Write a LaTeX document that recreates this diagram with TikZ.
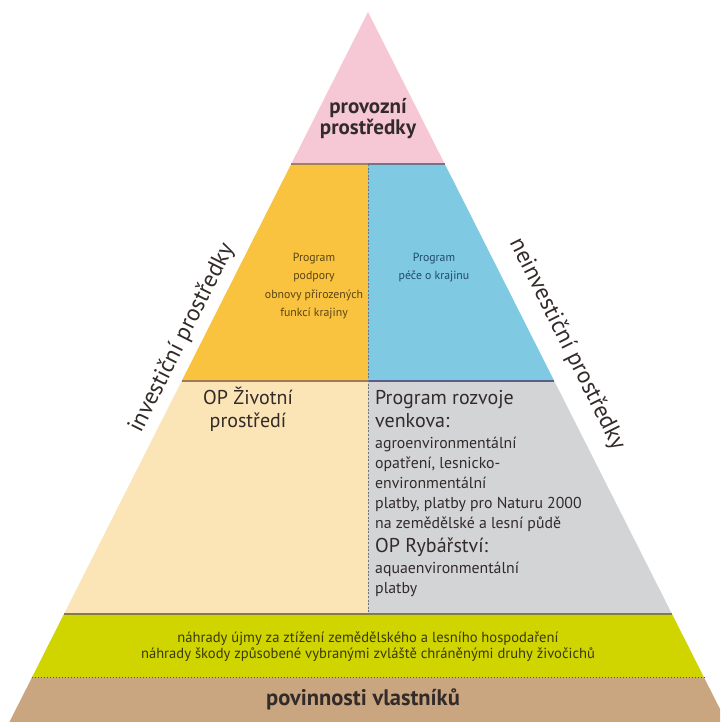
\documentclass[tikz,border=0pt]{standalone}
\usepackage{fontspec}
\setmainfont{PT Sans}
\usepackage{tikz}
\usetikzlibrary{positioning, calc}

\definecolor{pinkfill}{HTML}{F6C8D6}
\definecolor{orangefill}{HTML}{F9C33F}
\definecolor{bluefill}{HTML}{80C9E3}
\definecolor{beigefill}{HTML}{FBE4B6}
\definecolor{greyfill}{HTML}{D3D4D6}
\definecolor{limefill}{HTML}{D0D500}
\definecolor{brownfill}{HTML}{C9A67F}
\definecolor{txtdark}{HTML}{332A2A}
\definecolor{txtorange}{HTML}{5A4415}
\definecolor{txtblue}{HTML}{1F4A6A}
\definecolor{txtlime}{HTML}{3A3A0A}

\begin{document}
\begin{tikzpicture}[x=1pt, y=1pt,
    sepline/.style={line width=2.2pt},
    divline/.style={draw=black!55, line width=0.9pt, dash pattern=on 2pt off 1.6pt},
    title/.style={font=\fontsize{21}{21.5}\selectfont\bfseries, text=txtdark, align=center, inner sep=0pt},
    bigtext/.style={font=\fontsize{20}{23}\selectfont, text=txtdark, inner sep=0pt},
    smalltext/.style={font=\fontsize{15.8}{20}\selectfont, text=txtdark, align=left, inner sep=0pt},
    prog/.style={font=\fontsize{11.8}{18.4}\selectfont, align=center, inner sep=0pt},
    side/.style={font=\fontsize{23.5}{26}\selectfont, text=txtdark, inner sep=0pt}
]
    \useasboundingbox (0,0) rectangle (720,722);
    \clip (0,0) rectangle (720,722);

    % corners of the pyramid levels
    \coordinate (apex) at (368,710);
    \coordinate (pl) at (291.2,558);  \coordinate (pr) at (444.8,558);
    \coordinate (ol) at (181.7,341);  \coordinate (or) at (554.3,341);
    \coordinate (gl) at (64.0,108);   \coordinate (gr) at (672.0,108);
    \coordinate (ll) at (31.7,44);    \coordinate (lr) at (704.3,44);
    \coordinate (bl) at (9.4,0);      \coordinate (br) at (726.6,0);
    \coordinate (mp) at (368,558);    \coordinate (mo) at (368,341);
    \coordinate (mg) at (368,108);

    % levels
    \fill[pinkfill] (apex) -- (pl) -- (pr) -- cycle;
    \fill[orangefill] (pl) -- (mp) -- (mo) -- (ol) -- cycle;
    \fill[bluefill] (mp) -- (pr) -- (or) -- (mo) -- cycle;
    \fill[beigefill] (ol) -- (mo) -- (mg) -- (gl) -- cycle;
    \fill[greyfill] (mo) -- (or) -- (gr) -- (mg) -- cycle;
    \fill[limefill] (gl) -- (gr) -- (lr) -- (ll) -- cycle;
    \fill[brownfill] (ll) -- (lr) -- (br) -- (bl) -- cycle;

    % separating lines
    \draw[sepline, draw=brown!55!gray] (pl) -- (mp);
    \draw[sepline, draw=gray!90!blue] (mp) -- (pr);
    \draw[sepline, draw=brown!70!black!80] (ol) -- (mo);
    \draw[sepline, draw=gray!80!blue!90!black] (mo) -- (or);
    \draw[line width=2pt, draw=olive!60!black!80] (gl) -- (gr);
    \draw[line width=1pt, draw=olive!50!black, dash pattern=on 1.5pt off 1.5pt] (ll) -- (lr);
    \draw[divline] (mp) -- (mg);

    % operating funds
    \node[title] (prov) at (368,603.5) {provozní\\prostředky};

    % programmes
    \node[prog, text=txtorange, anchor=north] (ppop) at (314,469)
        {Program\\podpory\\obnovy přirozených\\funkcí krajiny};
    \node[prog, text=txtblue, anchor=north] (ppk) at (434,469)
        {Program\\péče o krajinu};

    % operational programmes
    \node[bigtext, align=center, anchor=north] (opzp) at (248,335)
        {OP Životní\\prostředí};
    \node[bigtext, align=left, anchor=north west] (prv) at (375,332)
        {Program rozvoje\\venkova:};
    \node[smalltext, anchor=north west] (prvt) at (375,285)
        {agroenvironmentální\\opatření, lesnicko-\\environmentální\\platby, platby pro Naturu 2000\\na zemědělské a lesní půdě};
    \node[bigtext, align=left, anchor=north west] (opr) at (375,184)
        {OP Rybářství:};
    \node[smalltext, anchor=north west] (oprt) at (375,160)
        {aquaenvironmentální\\platby};

    % compensations
    \node[prog, font=\fontsize{14.6}{16}\selectfont, text=txtlime] (nahr) at (368,75)
        {náhrady újmy za ztížení zemědělského a lesního hospodaření\\náhrady škody způsobené vybranými zvláště chráněnými druhy živočichů};

    % owners' duties
    \node[title, font=\fontsize{22.5}{24}\selectfont\bfseries] (povl) at (363,23) {povinnosti vlastníků};

    % side labels
    \node[side, rotate=63.4] (inv) at (182,384) {investiční prostředky};
    \node[side, rotate=-63.4] (neinv) at (567,378) {neinvestiční prostředky};
\end{tikzpicture}
\end{document}
